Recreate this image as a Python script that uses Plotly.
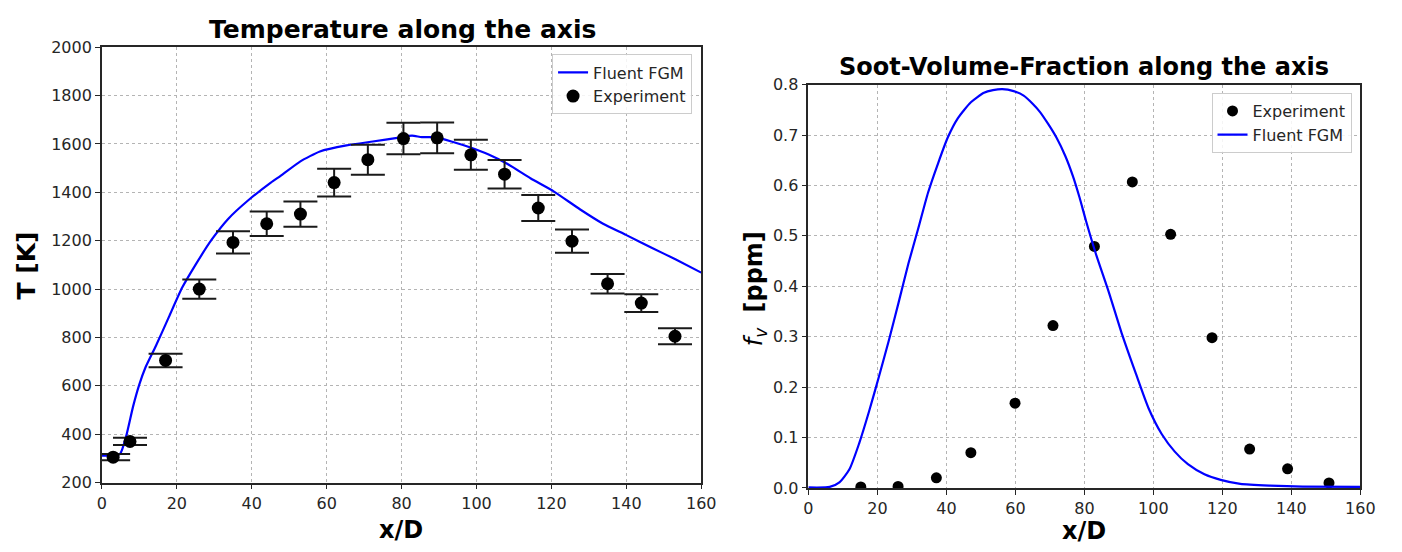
import plotly.graph_objects as go

# ---- Left: Temperature ----
t_exp_x = [3, 7.5, 17, 26, 35, 44, 53, 62, 71, 80.5, 89.5, 98.5, 107.5, 116.5, 125.5, 135, 144, 153]
t_exp_y = [305, 370, 705, 1000, 1193, 1270, 1310, 1440, 1535, 1622, 1625, 1555, 1475, 1335, 1198, 1022, 942, 805]
t_exp_err = [13, 15, 28, 40, 46, 51, 52, 57, 62, 65, 64, 62, 59, 54, 48, 40, 37, 33]

t_fgm_x = [0, 4.8, 6.5, 8.3, 10.0, 11.6, 14.4, 17.9, 21.4, 24.9, 29.3, 33.7, 39.0, 45.1, 47.7, 53.0,
           58.2, 65.3, 72.3, 79.3, 82.8, 85.4, 88.9, 93.3, 98.6, 103.1, 108.3, 114.5, 120.6, 127.6,
           133.8, 139.9, 146.9, 153.1, 160]
t_fgm_y = [311, 318, 393, 513, 606, 675, 765, 885, 1005, 1098, 1204, 1290, 1366, 1440, 1468, 1528,
           1569, 1594, 1610, 1626, 1634, 1628, 1628, 1610, 1584, 1557, 1517, 1457, 1404, 1330,
           1270, 1224, 1170, 1123, 1068]

# ---- Right: Soot volume fraction ----
s_exp_x = [15.2, 26, 37.1, 47.1, 59.9, 70.9, 82.9, 93.9, 105, 117, 127.9, 138.9, 150.9]
s_exp_y = [0.002, 0.003, 0.020, 0.070, 0.168, 0.322, 0.479, 0.607, 0.503, 0.298, 0.077, 0.038, 0.010]

s_fgm_x = [0, 6.2, 9.0, 11.9, 14.7, 17.6, 20.5, 23.3, 26.2, 29.0, 31.9, 34.7, 37.6, 40.4, 43.3,
           47.1, 50.9, 53.5, 56.2, 59.5, 62.4, 65.0, 67.1, 69.5, 71.9, 74.5, 76.7, 78.6, 80.5, 83.3,
           87.1, 90.9, 94.8, 98.6, 102.4, 106.2, 110.0, 114.8, 119.5, 125.2, 133.8, 143.3, 160]
s_fgm_y = [0.001, 0.002, 0.011, 0.037, 0.088, 0.152, 0.222, 0.292, 0.369, 0.445, 0.516, 0.586,
           0.644, 0.695, 0.733, 0.765, 0.784, 0.789, 0.791, 0.787, 0.778, 0.762, 0.746, 0.722,
           0.695, 0.658, 0.618, 0.576, 0.529, 0.465, 0.388, 0.305, 0.229, 0.158, 0.107, 0.072,
           0.047, 0.027, 0.016, 0.008, 0.0045, 0.0026, 0.002]

x_ticks = [0, 20, 40, 60, 80, 100, 120, 140, 160]
t_ticks = [200, 400, 600, 800, 1000, 1200, 1400, 1600, 1800, 2000]
s_ticks = [0.0, 0.1, 0.2, 0.3, 0.4, 0.5, 0.6, 0.7, 0.8]

W, H = 1402, 552
FONT = "DejaVu Sans"
BLUE = "#0000ff"
INK = "#262626"

fig = go.Figure()

fig.add_trace(go.Scatter(x=t_fgm_x, y=t_fgm_y, mode="lines", name="Fluent FGM",
                         line=dict(color=BLUE, width=2.2, shape="spline", smoothing=0.5),
                         xaxis="x", yaxis="y", legend="legend"))
fig.add_trace(go.Scatter(x=t_exp_x, y=t_exp_y, mode="markers", name="Experiment",
                         marker=dict(color="black", size=13),
                         error_y=dict(type="data", array=t_exp_err, visible=True, color="#1a1a1a",
                                      thickness=2, width=17),
                         xaxis="x", yaxis="y", legend="legend"))

fig.add_trace(go.Scatter(x=s_exp_x, y=s_exp_y, mode="markers", name="Experiment",
                         marker=dict(color="black", size=11),
                         xaxis="x2", yaxis="y2", legend="legend2"))
fig.add_trace(go.Scatter(x=s_fgm_x, y=s_fgm_y, mode="lines", name="Fluent FGM",
                         line=dict(color=BLUE, width=2.2, shape="spline", smoothing=0.6),
                         xaxis="x2", yaxis="y2", legend="legend2"))


def px_x(p):
    return p / W


def px_y(p):
    return 1 - p / H


axis_common = dict(showgrid=True, gridcolor="#b4b4b4", griddash="dot", gridwidth=1,
                   showline=True, linecolor="#262626", linewidth=1.6, mirror=True,
                   ticks="outside", ticklen=5, tickcolor="#262626", zeroline=False,
                   tickfont=dict(family=FONT, size=16, color=INK))

fig.update_layout(
    width=W, height=H, margin=dict(l=0, r=0, t=0, b=0),
    paper_bgcolor="white", plot_bgcolor="white",
    font=dict(family=FONT, color="black"),
    showlegend=True,
    xaxis=dict(domain=[px_x(98.3), px_x(706.3)], range=[0, 160], tickvals=x_ticks, anchor="y",
               **axis_common),
    yaxis=dict(domain=[px_y(490.5), px_y(39.5)], range=[200, 2000], tickvals=t_ticks, anchor="x",
               **axis_common),
    xaxis2=dict(domain=[px_x(815), px_x(1375)], range=[0, 160], tickvals=x_ticks, anchor="y2",
                **axis_common),
    yaxis2=dict(domain=[px_y(496), px_y(78.3)], range=[0, 0.8], tickvals=s_ticks, tickformat=".1f",
                anchor="x2", **axis_common),
    legend=dict(x=px_x(697), y=px_y(47), xanchor="right", yanchor="top",
                bgcolor="rgba(255,255,255,0.85)", bordercolor="#cccccc", borderwidth=1,
                font=dict(family=FONT, size=16, color=INK), tracegroupgap=0),
    legend2=dict(x=px_x(1366), y=px_y(87), xanchor="right", yanchor="top",
                 bgcolor="rgba(255,255,255,0.85)", bordercolor="#cccccc", borderwidth=1,
                 font=dict(family=FONT, size=16, color=INK), tracegroupgap=0),
    annotations=[
        dict(text="<b>Temperature along the axis</b>", x=px_x(403), y=px_y(21), xref="paper",
             yref="paper", showarrow=False, xanchor="center", yanchor="middle",
             font=dict(family=FONT, size=25, color="black")),
        dict(text="<b>Soot-Volume-Fraction along the axis</b>", x=px_x(1095), y=px_y(60),
             xref="paper", yref="paper", showarrow=False, xanchor="center", yanchor="middle",
             font=dict(family=FONT, size=24, color="black")),
        dict(text="<b>T [K]</b>", x=px_x(22), y=px_y(266), xref="paper", yref="paper",
             showarrow=False, textangle=-90, xanchor="center", yanchor="middle",
             font=dict(family=FONT, size=25, color="black")),
        dict(text="<b>x/D</b>", x=px_x(402), y=px_y(540), xref="paper", yref="paper",
             showarrow=False, xanchor="center", yanchor="middle",
             font=dict(family=FONT, size=24, color="black")),
        dict(text="<b>x/D</b>", x=px_x(1095), y=px_y(541), xref="paper", yref="paper",
             showarrow=False, xanchor="center", yanchor="middle",
             font=dict(family=FONT, size=24, color="black")),
        dict(text="<i>f</i><sub><i>v</i></sub>  <b>[ppm]</b>", x=px_x(761), y=px_y(290),
             xref="paper", yref="paper", showarrow=False, textangle=-90,
             xanchor="center", yanchor="middle",
             font=dict(family=FONT, size=24, color="black")),
    ],
)

fig.write_html("out.html",
               post_script="document.body.style.margin='0';document.body.style.overflow='hidden';")
